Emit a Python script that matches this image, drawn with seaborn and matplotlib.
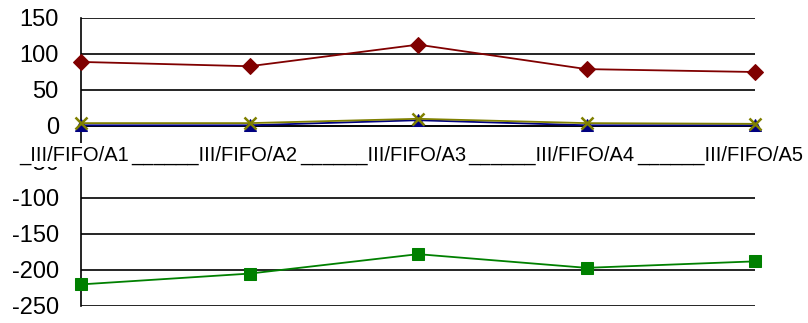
import matplotlib
matplotlib.use("Agg")
import matplotlib.pyplot as plt
import matplotlib.transforms as mtransforms
import seaborn as sns
import pandas as pd

# -------------------------------
# Dados
# -------------------------------
categorias = ["III/FIFO/A1", "III/FIFO/A2", "III/FIFO/A3", "III/FIFO/A4", "III/FIFO/A5"]
serie_vermelha = [89, 83, 113, 79, 75]
serie_azul = [1, 1, 8, 1, 1]
serie_oliva = [4, 4, 10, 4, 3]
serie_verde = [-220, -205, -178, -197, -188]
rotulos_y = [150, 100, 50, 0, -50, -100, -150, -200, -250]

series = {
    "vermelha": serie_vermelha,
    "azul": serie_azul,
    "oliva": serie_oliva,
    "verde": serie_verde,
}
cores = {"vermelha": "#800000", "azul": "#000080", "oliva": "#808000", "verde": "#008000"}
marcadores = {"vermelha": "D", "azul": "^", "oliva": "x", "verde": "s"}
tamanhos = {"vermelha": 8, "azul": 8, "oliva": 9, "verde": 9}

linhas = []
for nome, valores in series.items():
    for i, v in enumerate(valores):
        linhas.append({"pos": i, "valor": v, "serie": nome})
df = pd.DataFrame(linhas)

# -------------------------------
# Gráfico
# -------------------------------
sns.set_style("white")
plt.rcParams["font.family"] = ["Liberation Sans", "DejaVu Sans"]

fig = plt.figure(figsize=(8.08, 3.23), dpi=100)
ax = fig.add_axes([81 / 808, 17 / 323, 674 / 808, 288 / 323])

for nome in ["vermelha", "verde", "azul", "oliva"]:
    sub = df[df["serie"] == nome]
    if nome == "oliva":
        mk = dict(marker="x", markersize=9, markeredgewidth=1.8,
                  markeredgecolor=cores[nome])
    else:
        mk = dict(marker=marcadores[nome], markersize=tamanhos[nome],
                  markeredgecolor=cores[nome], markerfacecolor=cores[nome])
    sns.lineplot(data=sub, x="pos", y="valor", color=cores[nome],
                 linewidth=1.3, ax=ax, legend=False, zorder=3,
                 clip_on=False, **mk)

ax.set_xlim(0, len(categorias) - 1)
ax.set_ylim(min(rotulos_y), max(rotulos_y))
ax.yaxis.grid(True, color="black", linewidth=1.2)
ax.set_axisbelow(True)
ax.tick_params(axis="y", direction="out", length=6, width=1.2, pad=10,
               colors="black", labelsize=17)
ax.tick_params(axis="x", direction="inout", length=12, width=1.2,
               colors="black", labelbottom=False)

ax.set_yticks(rotulos_y)
ax.set_yticklabels([str(v) for v in rotulos_y])
ax.set_xticks(range(len(categorias)))

# rótulos das categorias (com sublinhados entre eles, como no original)
textos_x = ["_" + categorias[0]] + ["______" + c for c in categorias[1:]]
desloc = mtransforms.ScaledTranslation(48 / 100, -29 / 100, fig.dpi_scale_trans)
for i, txt in enumerate(textos_x):
    ax.text(i, 0, txt, transform=ax.transData + desloc, ha="right",
            va="center", fontsize=14.5, color="black", zorder=6,
            bbox=dict(facecolor="white", edgecolor="none", pad=2))

ax.spines["bottom"].set_position(("data", 0))
for lado in ["bottom", "left"]:
    ax.spines[lado].set_linewidth(1.2)
    ax.spines[lado].set_color("black")
ax.spines["top"].set_visible(False)
ax.spines["right"].set_visible(False)

ax.set_xlabel("")
ax.set_ylabel("")

fig.savefig("out.png", dpi=100)
